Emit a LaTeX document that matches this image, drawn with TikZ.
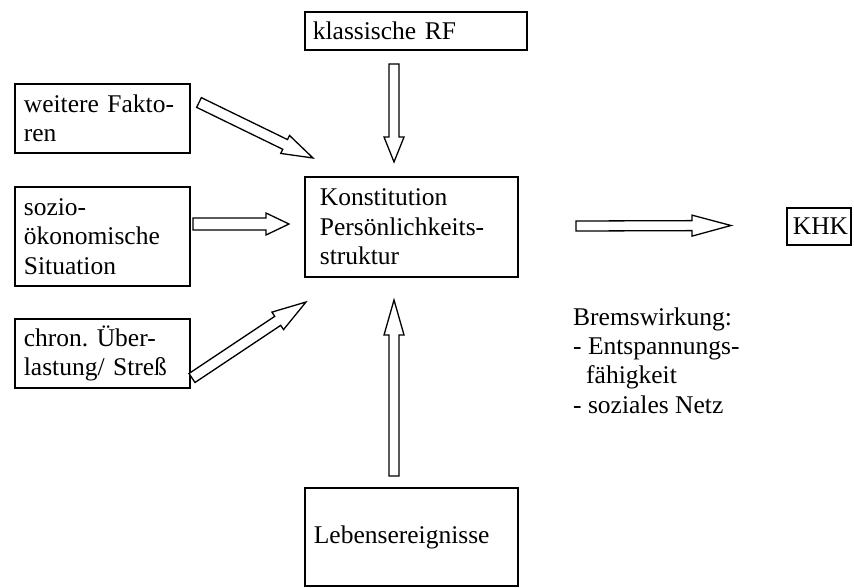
\documentclass[tikz,border=0pt]{standalone}
\usepackage{fontspec}
\setmainfont{Liberation Serif}
\usetikzlibrary{calc}
\frenchspacing
\tikzset{
  every node/.style={font=\fontsize{25.5}{29.3}\selectfont},
  boxnode/.style={draw, line width=1.8pt, rectangle, anchor=north west, align=left, inner ysep=0pt},
  blockarrow/.style={draw, line width=1.3pt, fill=white, line join=miter},
  plaintext/.style={anchor=north west, align=left, inner sep=0pt}
}
\newcommand\hollowarrow[5]{% #1 head length, #2 shaft half width, #3 head half width, #4 from, #5 to
  \path ($(#5)!#1!(#4)$) coordinate (hb);
  \draw[blockarrow] ($(#4)!#2!90:(#5)$) -- ($(hb)!#2!-90:(#4)$) -- ($(hb)!#3!-90:(#4)$) -- (#5)
    -- ($(hb)!#3!90:(#4)$) -- ($(hb)!#2!90:(#4)$) -- ($(#4)!#2!-90:(#5)$) -- cycle;}
\begin{document}
\begin{tikzpicture}[x=1pt,y=-1pt]
\useasboundingbox (0,0) rectangle (854,587);
% boxes
\node[boxnode, minimum width=222pt, minimum height=38pt, text width=206pt, inner xsep=8pt] (krf) at (304,11) {klassische RF};
\node[boxnode, minimum width=175pt, minimum height=69pt, text width=157pt, inner xsep=9pt] (weit) at (14,83) {weitere Fakto-\\ren};
\node[boxnode, minimum width=175pt, minimum height=99pt, text width=157pt, inner xsep=9pt] (sozio) at (14,186) {sozio-\\ökonomische\\Situation};
\node[boxnode, minimum width=175pt, minimum height=69pt, text width=157pt, inner xsep=9pt] (chron) at (14,318) {chron. Über-\\lastung/ Streß};
\node[boxnode, minimum width=213pt, minimum height=100pt, text width=183pt, inner xsep=15pt] (kons) at (304,176) {Konstitution\\Persönlichkeits-\\struktur};
\node[boxnode, minimum width=64pt, minimum height=37pt, text width=52pt, inner xsep=6pt] (khk) at (786,207) {KHK};
\node[boxnode, minimum width=213pt, minimum height=98pt, text width=195pt, inner xsep=9pt] (leb) at (304,487) {Lebensereignisse};
% text
\node[plaintext] (brems) at (573,305) {\rule{0pt}{20pt}Bremswirkung:\\- Entspannungs-\\\hspace*{13pt}fähigkeit\\- soziales Netz};
% arrow end points
\coordinate (a1) at (394,64);   \coordinate (b1) at (394,162);
\coordinate (a2) at (394,476);  \coordinate (b2) at (394,300);
\coordinate (a3) at (193,224);  \coordinate (b3) at (289,224);
\coordinate (a4) at (199,102.5);\coordinate (b4) at (313,158);
\coordinate (a5) at (192,378);  \coordinate (b5) at (306,302);
\coordinate (a6) at (576,226);  \coordinate (b6) at (731,225.5);
% arrows
\hollowarrow{25pt}{5pt}{10pt}{a1}{b1}
\hollowarrow{35pt}{5pt}{10pt}{a2}{b2}
\hollowarrow{23pt}{6pt}{11pt}{a3}{b3}
\hollowarrow{31pt}{5.4pt}{10pt}{a4}{b4}
\hollowarrow{34pt}{5.4pt}{10.5pt}{a5}{b5}
\hollowarrow{39pt}{5pt}{10.5pt}{a6}{b6}
\end{tikzpicture}
\end{document}
